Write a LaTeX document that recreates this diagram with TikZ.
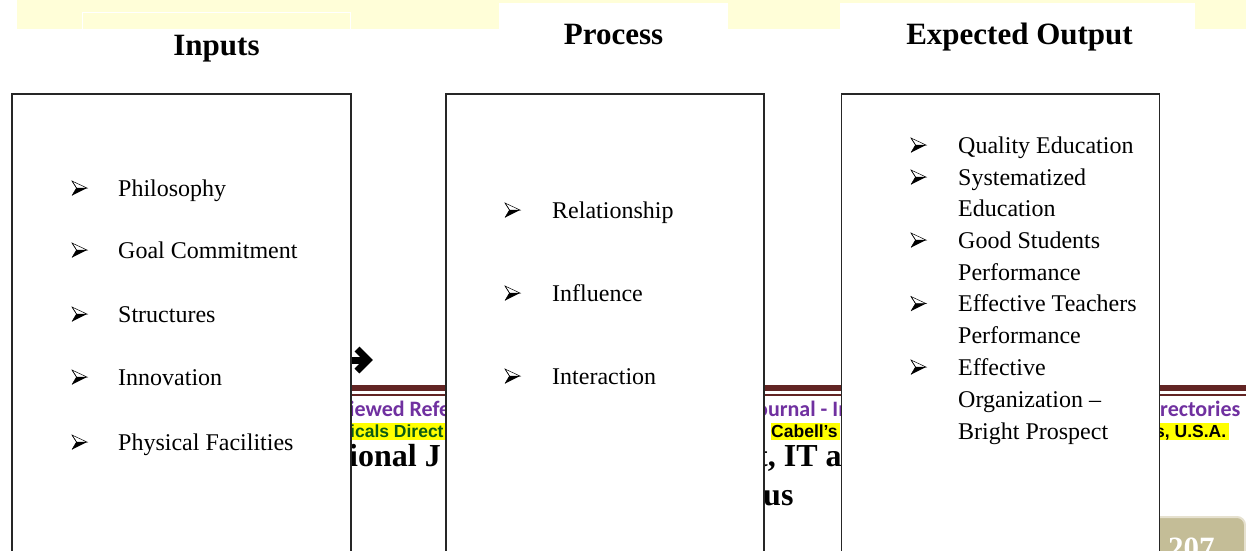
\documentclass[tikz,border=0pt]{standalone}
\usepackage{fontspec}
\setmainfont{Liberation Serif}
\newfontfamily\tnr{Liberation Serif}
\newfontfamily\calf{Carlito}
\newfontfamily\arif{Liberation Sans}
\definecolor{bandyellow}{HTML}{FFFED8}
\definecolor{maroon}{HTML}{622423}
\definecolor{purp}{HTML}{7030A0}
\definecolor{dgreen}{HTML}{0B5A14}
\definecolor{hl}{HTML}{FFFF00}
\definecolor{tan}{HTML}{C4BD97}
\definecolor{tanedge}{HTML}{E6E1CF}
\tikzset{
  boxframe/.style={draw=black!85, line width=1.6pt, fill=white, inner sep=0pt, anchor=north west},
  hdr/.style={font=\tnr\bfseries\fontsize{31}{36}\selectfont, anchor=base, inner sep=0pt},
  itm/.style={font=\tnr\fontsize{24}{28}\selectfont, anchor=base west, inner sep=0pt},
  purpfrag/.style={font=\calf\bfseries\fontsize{22}{26}\selectfont, text=purp, anchor=base west, inner sep=0pt},
  hlfrag/.style={font=\arif\bfseries\fontsize{17.5}{20}\selectfont, anchor=base west, inner sep=0pt},
  bigfrag/.style={font=\tnr\bfseries\fontsize{32}{36}\selectfont, anchor=base west, inner sep=0pt},
  pics/arrowbullet/.style={code={
    \fill[white, draw=black, line width=0.5pt, line join=miter] (0,-7) -- (15,0) -- (4.5,0) -- cycle;
    \fill[black, line join=miter] (4.5,0) -- (15,0) -- (0,7.5) -- cycle;
    \draw[black, line width=0.5pt] (0,-7) -- (4.5,0) -- (0,7.5);
  }}
}
\begin{document}
\begin{tikzpicture}[x=1pt,y=-1pt]
\useasboundingbox (0,0) rectangle (1246,550);
\clip (0,0) rectangle (1246,550);
\fill[white] (0,0) rectangle (1246,550);

% top band
\fill[bandyellow] (17,0) rectangle (1246,29);
\fill[white] (499,3) rectangle (728,29);
\fill[white] (840,3) rectangle (1195,29);
\draw[white, line width=0.8pt] (82,29) -- (82,12) -- (350,12) -- (350,29);

% footer rules
\fill[maroon] (340,385) rectangle (1246,391);
\fill[maroon] (340,393.5) rectangle (1246,395.5);

% fragments in gap 1
\node[purpfrag] (f1a) at (349,416) {iewed Refe};
\fill[hl] (350,423) rectangle (445,440);
\node[hlfrag, text=dgreen] (f1b) at (350,437) {icals Direct};
\node[bigfrag] (f1c) at (349,466) {ional J};

% fragments in gap 2
\node[purpfrag] (f2a) at (756,416) {ournal - In};
\node[hlfrag, text=dgreen] (f2n) at (755,437) {n};
\fill[hl] (771,423) rectangle (840,440);
\node[hlfrag] (f2b) at (771,437) {Cabell’s};
\node[bigfrag] (f2c) at (757,466) {t, IT a};
\node[bigfrag] (f2d) at (763,505) {us};

% fragments in gap 3
\node[purpfrag] (f3a) at (1160,416) {rectories};
\fill[hl] (1159,423) rectangle (1229,440);
\node[hlfrag] (f3b) at (1155,437) {s, U.S.A.};
\draw[tanedge, line width=2pt, fill=tan, rounded corners=8pt] (1150,517) rectangle (1245,570);
\node[font=\tnr\bfseries\fontsize{31}{36}\selectfont, text=white, anchor=base west, inner sep=0pt] (pg) at (1168,558) {207};

% heavy arrow
\coordinate (ar0) at (330,360);
\coordinate (ar1) at (366,360);
\draw[line width=7pt] (ar0) -- (ar1);
\draw[line width=7pt, miter limit=10] (357,349) -- (368,360) -- (357,371);

% boxes
\node[boxframe, minimum width=339pt, minimum height=480pt] (b1) at (11,93) {};
\node[boxframe, minimum width=318pt, minimum height=480pt] (b2) at (445,93) {};
\node[boxframe, minimum width=318pt, minimum height=480pt] (b3) at (840.5,93) {};

% headers
\node[hdr] (h1) at (216.5,55) {Inputs};
\node[hdr] (h2) at (613.5,44) {Process};
\node[hdr] (h3) at (1019.5,44) {Expected Output};

% box 1 items
\foreach \yy/\txt [count=\i] in {188/Philosophy, 250/Goal Commitment, 314/Structures, 377/Innovation, 442/Physical Facilities}{
  \pic at (72,\yy) {arrowbullet};
  \node[itm] (it\i) at (118,\yy+8) {\txt};
}

% box 2 items
\foreach \yy/\txt [count=\i] in {210/Relationship, 293/Influence, 376/Interaction}{
  \pic at (505,\yy) {arrowbullet};
  \node[itm] (pt\i) at (552,\yy+8) {\txt};
}

% box 3 items
\foreach \yy in {145,177,240,303.5,367}{
  \pic at (911,\yy) {arrowbullet};
}
\node[itm] (ot1) at (958,153) {Quality Education};
\node[itm] (ot2a) at (958,185) {Systematized};
\node[itm] (ot2b) at (958,216.5) {Education};
\node[itm] (ot3a) at (958,248) {Good Students};
\node[itm] (ot3b) at (958,280) {Performance};
\node[itm] (ot4a) at (958,311.5) {Effective Teachers};
\node[itm] (ot4b) at (958,343) {Performance};
\node[itm] (ot5a) at (958,375) {Effective};
\node[itm] (ot5b) at (958,407) {Organization –};
\node[itm] (ot5c) at (958,439) {Bright Prospect};
\end{tikzpicture}
\end{document}
